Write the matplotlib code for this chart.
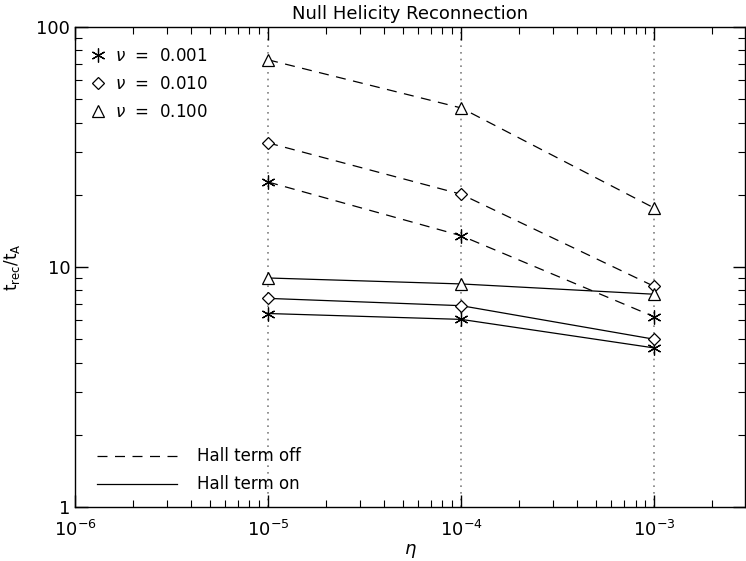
import matplotlib
matplotlib.use("Agg")
import matplotlib.pyplot as plt
from matplotlib.lines import Line2D
from matplotlib.ticker import LogLocator, NullFormatter, FixedLocator, FixedFormatter

eta = [1e-5, 1e-4, 1e-3]
nu_labels = [r"$\nu$  =  0.001", r"$\nu$  =  0.010", r"$\nu$  =  0.100"]
hall_off = {
    "0.001": [22.6, 13.5, 6.2],
    "0.010": [32.9, 20.1, 8.3],
    "0.100": [73.0, 46.0, 17.6],
}
hall_on = {
    "0.001": [6.4, 6.05, 4.6],
    "0.010": [7.4, 6.9, 5.0],
    "0.100": [9.0, 8.5, 7.7],
}
markers = {"0.001": (6, 2, 0), "0.010": "D", "0.100": "^"}
msizes = {"0.001": 10, "0.010": 6, "0.100": 9}
dash = (0, (8, 6))

plt.rcParams["font.family"] = ["DejaVu Sans"]
fig = plt.figure(figsize=(7.46, 5.61), dpi=100)
ax = fig.add_axes([75/746, 54/561, 670/746, 480/561])
ax.set_xscale("log")
ax.set_yscale("log")
ax.set_xlim(1e-6, 2.95e-3)
ax.set_ylim(1, 100)

for x in eta:
    ax.axvline(x, color="gray", linestyle=(0, (1, 3)), linewidth=1.2, zorder=0)

for key in ["0.001", "0.010", "0.100"]:
    m = markers[key]
    ms = msizes[key]
    ax.plot(eta, hall_off[key], color="black", linestyle=dash, linewidth=0.9,
            marker=m, markersize=ms, markerfacecolor="white", markeredgecolor="black",
            markeredgewidth=0.9)
    ax.plot(eta, hall_on[key], color="black", linestyle="-", linewidth=0.9,
            marker=m, markersize=ms, markerfacecolor="white", markeredgecolor="black",
            markeredgewidth=0.9)

# legends
mh = [Line2D([], [], linestyle="none", marker=markers[k], markersize=msizes[k],
             markerfacecolor="white", markeredgecolor="black", markeredgewidth=0.9, color="black")
      for k in ["0.001", "0.010", "0.100"]]
leg1 = ax.legend(mh, nu_labels, loc="upper left", frameon=False, fontsize=12,
                 handlelength=1.0, handletextpad=0.5, labelspacing=0.6,
                 bbox_to_anchor=(0.0, 0.99))
ax.add_artist(leg1)
lh = [Line2D([], [], color="black", linestyle=dash, linewidth=0.9),
      Line2D([], [], color="black", linestyle="-", linewidth=0.9)]
ax.legend(lh, ["Hall term off", "Hall term on"], loc="lower left", frameon=False,
          fontsize=12, handlelength=4.8, handletextpad=1.2, labelspacing=0.6,
          bbox_to_anchor=(0.01, -0.003))

ax.tick_params(which="both", direction="in", top=True, right=True, labelsize=13)
ax.tick_params(axis="x", which="major", pad=9)
ax.tick_params(which="major", length=9, width=1)
ax.tick_params(which="minor", length=5, width=0.8)
ax.xaxis.set_major_locator(FixedLocator([1e-6, 1e-5, 1e-4, 1e-3]))
ax.xaxis.set_major_formatter(FixedFormatter([r"$10^{-6}$", r"$10^{-5}$", r"$10^{-4}$", r"$10^{-3}$"]))
ax.xaxis.set_minor_locator(LogLocator(base=10, subs=range(2, 10), numticks=20))
ax.xaxis.set_minor_formatter(NullFormatter())
ax.yaxis.set_major_locator(FixedLocator([1, 10, 100]))
ax.yaxis.set_major_formatter(FixedFormatter(["1", "10", "100"]))
ax.yaxis.set_minor_locator(LogLocator(base=10, subs=range(2, 10), numticks=20))
ax.yaxis.set_minor_formatter(NullFormatter())
for s in ax.spines.values():
    s.set_linewidth(1.0)

ax.set_title("Null Helicity Reconnection", fontsize=13, pad=6)
ax.set_xlabel(r"$\eta$", fontsize=13, labelpad=2)
ax.set_ylabel(r"t$_{\rm rec}$/t$_{\rm A}$", fontsize=12, labelpad=10)

fig.savefig("out.png", dpi=100)
